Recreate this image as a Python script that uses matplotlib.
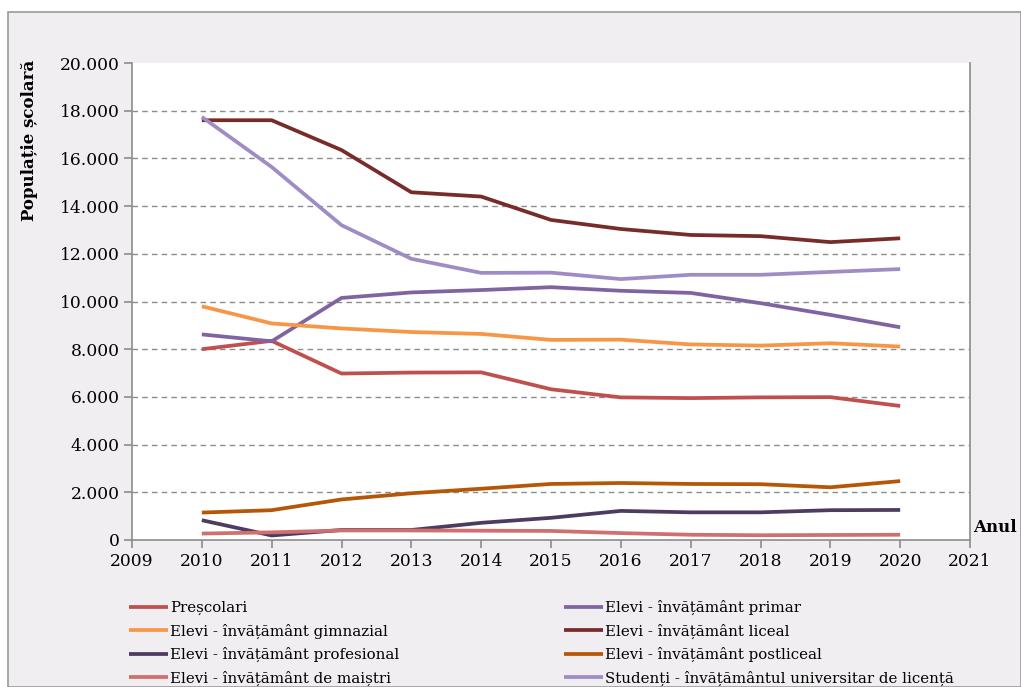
import matplotlib
matplotlib.use("Agg")
import matplotlib.pyplot as plt
from matplotlib.patches import Rectangle

years = [2010, 2011, 2012, 2013, 2014, 2015, 2016, 2017, 2018, 2019, 2020]

prescolari   = [8000, 8350, 6980, 7020, 7030, 6320, 5980, 5950, 5980, 5990, 5620]
primar       = [8620, 8330, 10150, 10380, 10480, 10600, 10450, 10360, 9930, 9440, 8920]
gimnazial    = [9800, 9080, 8870, 8720, 8640, 8390, 8400, 8200, 8150, 8250, 8110]
liceal       = [17600, 17600, 16350, 14580, 14400, 13420, 13040, 12790, 12740, 12490, 12650]
profesional  = [830, 190, 420, 420, 720, 930, 1220, 1160, 1160, 1250, 1260]
postliceal   = [1150, 1250, 1700, 1960, 2150, 2350, 2390, 2350, 2340, 2210, 2470]
maistri      = [270, 320, 400, 400, 390, 380, 290, 220, 200, 210, 220]
studenti     = [17740, 15640, 13200, 11790, 11200, 11210, 10940, 11120, 11120, 11240, 11360]

labels = ["Preșcolari", "Elevi - învățământ primar", "Elevi - învățământ gimnazial",
          "Elevi - învățământ liceal", "Elevi - învățământ profesional",
          "Elevi - învățământ postliceal", "Elevi - învățământ de maiștri",
          "Studenți - învățământul universitar de licență"]
series = [prescolari, primar, gimnazial, liceal, profesional, postliceal, maistri, studenti]
colors = ["#C0504D", "#8064A2", "#F79646", "#772C2A", "#4D3B62", "#B65708", "#D0706E", "#A08CC4"]

y_ticks = list(range(0, 20001, 2000))
x_ticks = list(range(2009, 2022))

def fmt(v):
    return "{:,}".format(v).replace(",", ".")

plt.rcParams['font.family'] = ['DejaVu Serif']
W, H = 1021, 687
fig = plt.figure(figsize=(W/100, H/100), dpi=100)
fig.patch.set_facecolor("white")
bg = Rectangle((8/W, 0), (W-8)/W, (H-12)/H, transform=fig.transFigure,
               facecolor="#F0EEF0", edgecolor="#9A9A9A", lw=1.2, zorder=-10)
fig.patches.append(bg)

ax = fig.add_axes([132/W, 1-540/H, (970-132)/W, (540-63)/H])
ax.set_facecolor("white")
lines = {}
for lab, s, c in zip(labels, series, colors):
    ln, = ax.plot(years, s, color=c, lw=2.7, solid_capstyle="butt", solid_joinstyle="round", label=lab)
    lines[lab] = ln

ax.set_xlim(2009, 2021)
ax.set_ylim(0, 20000)
ax.set_xticks(x_ticks)
ax.set_yticks(y_ticks)
ax.set_yticklabels([fmt(v) for v in y_ticks])
for v in y_ticks[1:-1]:
    ax.axhline(v, color="#8C8C8C", lw=1.0, ls=(0, (4, 3)), zorder=0.5)
for side in ["left", "bottom", "right"]:
    ax.spines[side].set_color("#8C8C8C")
    ax.spines[side].set_linewidth(1.2)
ax.spines["top"].set_visible(False)
ax.tick_params(axis="both", direction="out", length=6, color="#8C8C8C", width=1.2,
               labelsize=12.3, labelcolor="black", pad=3)

fig.text(30/W, 1-140/H, "Populație școlară", rotation=90, ha="center", va="center",
         fontsize=12, fontweight="bold")
fig.text(995/W, 1-527/H, "Anul", ha="center", va="center", fontsize=12, fontweight="bold")

order = [labels[0], labels[2], labels[4], labels[6], labels[1], labels[3], labels[5], labels[7]]
leg = fig.legend([lines[l] for l in order], order, ncol=2, loc="upper left",
                 bbox_to_anchor=(123/W, 1-594/H), frameon=False, fontsize=10.8,
                 handlelength=2.6, handletextpad=0.15, columnspacing=10.95,
                 labelspacing=0.55, borderaxespad=0)

fig.savefig("out.png", dpi=100)
